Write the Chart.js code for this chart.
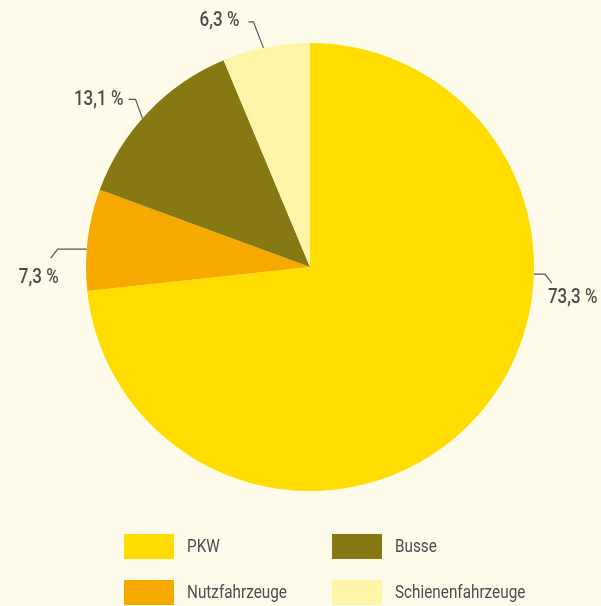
<!DOCTYPE html>
<html>
<head>
<meta charset="utf-8">
<script src="https://cdn.jsdelivr.net/npm/chart.js@4.4.0/dist/chart.umd.min.js"></script>
<style>
  html, body { margin: 0; padding: 0; background: #FFFBEA; }
  #wrap { position: relative; width: 601px; height: 606px; }
</style>
</head>
<body>
<div id="wrap"><canvas id="pieChart" width="601" height="606"></canvas></div>
<script>
// data
const categories = ['PKW', 'Nutzfahrzeuge', 'Busse', 'Schienenfahrzeuge'];
const shares = [73.3, 7.3, 13.1, 6.3];
const sliceColors = ['#FFDD00', '#F6AA00', '#867812', '#FFF5A8'];

// legend order as in the picture (2 columns)
const legendOrder = [0, 2, 1, 3];

const FONT = "Roboto, 'Liberation Sans', sans-serif";
const TEXT = '#4d4d4d';
const SQUEEZE = 0.85; // condensed look

// leader line layout per slice: angle on the rim (deg from top, clockwise),
// elbow offset from rim point, end offset from elbow, text offset from end
const labelLayout = [
    { angle: 91.8, elbow: [11, 0], end: [7, 9], text: [-4, 15], align: 'left' },
    { angle: 274.6, elbow: [-29, 0], end: [-7, 9], text: [8, 20], align: 'right' },
    { angle: 311.6, elbow: [-7, -19], end: [-7, 0], text: [-5, 1], align: 'right' },
    { angle: 348.0, elbow: [-10, -26], end: [-5, 0], text: [-9, -1], align: 'right' }
];

const fmt = v => v.toFixed(1).replace('.', ',') + ' %';

function squeezedText(ctx, str, x, y, align) {
    ctx.save();
    ctx.translate(x, y);
    ctx.scale(SQUEEZE, 1);
    ctx.textAlign = align;
    ctx.fillText(str, 0, 0);
    ctx.restore();
}

const leaderLabels = {
    id: 'leaderLabels',
    afterDraw(chart) {
        const ctx = chart.ctx;
        const arcs = chart.getDatasetMeta(0).data;
        ctx.save();
        ctx.strokeStyle = '#555555';
        ctx.lineWidth = 1.2;
        ctx.fillStyle = TEXT;
        ctx.font = '500 20px ' + FONT;
        ctx.textBaseline = 'middle';
        arcs.forEach((arc, i) => {
            const p = arc.getProps(['x', 'y', 'outerRadius'], true);
            const L = labelLayout[i];
            const a = (L.angle - 90) * Math.PI / 180;
            const x0 = p.x + Math.cos(a) * p.outerRadius;
            const y0 = p.y + Math.sin(a) * p.outerRadius;
            const x1 = x0 + L.elbow[0], y1 = y0 + L.elbow[1];
            const x2 = x1 + L.end[0], y2 = y1 + L.end[1];
            ctx.beginPath();
            ctx.moveTo(x0, y0);
            ctx.lineTo(x1, y1);
            ctx.lineTo(x2, y2);
            ctx.stroke();
            squeezedText(ctx, fmt(shares[i]), x2 + L.text[0], y2 + L.text[1], L.align);
        });

        // legend
        ctx.font = '18px ' + FONT;
        legendOrder.forEach((idx, k) => {
            const col = k % 2, row = Math.floor(k / 2);
            const bx = 124 + col * 208, by = 534 + row * 46;
            ctx.fillStyle = sliceColors[idx];
            ctx.fillRect(bx, by, 50, 25);
            ctx.fillStyle = TEXT;
            squeezedText(ctx, categories[idx], bx + 63, by + 13, 'left');
        });
        ctx.restore();
    }
};

new Chart(document.getElementById('pieChart'), {
    type: 'pie',
    data: {
        labels: categories,
        datasets: [{
            data: shares,
            backgroundColor: sliceColors,
            borderWidth: 0
        }]
    },
    options: {
        responsive: false,
        animation: false,
        layout: { padding: { top: 43, bottom: 115, left: 86, right: 67 } },
        plugins: {
            legend: { display: false },
            tooltip: { enabled: false }
        }
    },
    plugins: [leaderLabels]
});
</script>
</body>
</html>
